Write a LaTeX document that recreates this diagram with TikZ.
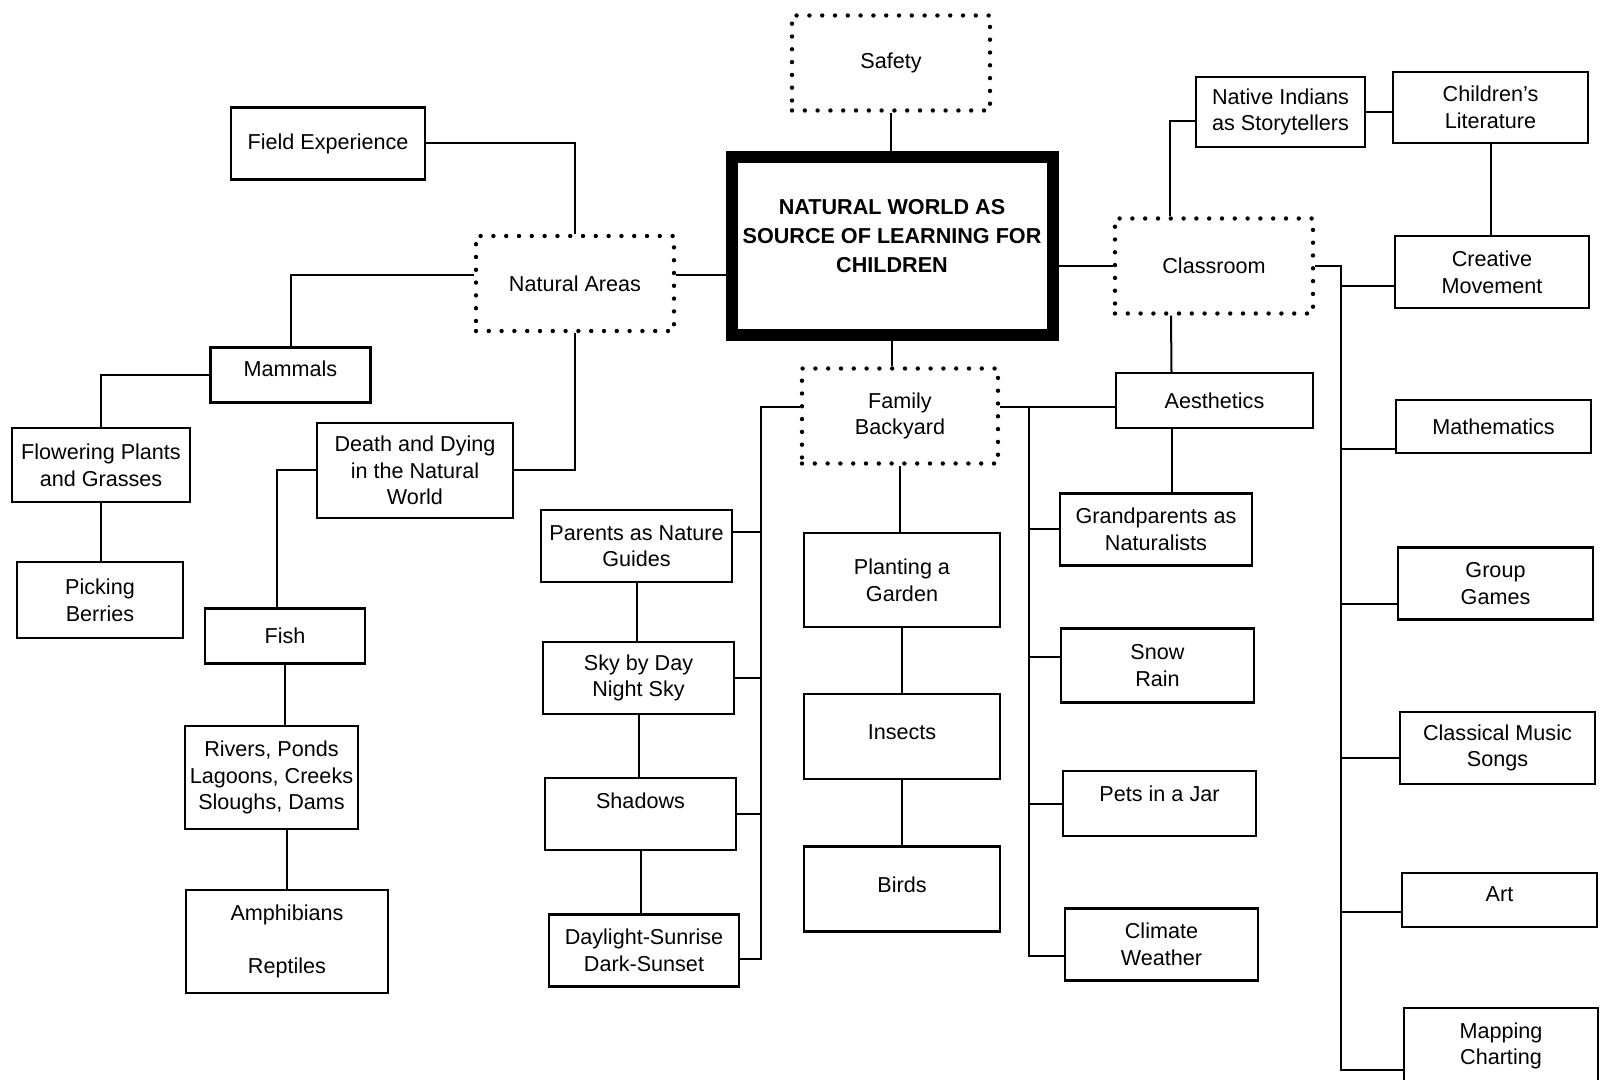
\documentclass[tikz,border=0pt]{standalone}
\usepackage{fontspec}
\setmainfont{Liberation Sans}
\usetikzlibrary{positioning}

\newcommand\hubfont{\fontsize{10.8}{14.6}\selectfont\bfseries}

\tikzset{
  box/.style={draw, line width=1.1pt, rectangle, align=center, inner sep=2pt,
    minimum width=97pt, minimum height=36pt,
    font=\fontsize{10.8}{13.3}\selectfont},
  lowbox/.style={minimum height=27.5pt},
  highbox/.style={minimum height=47.5pt},
  dotbox/.style={box, line width=2.2pt, line cap=round,
    dash pattern=on 0pt off 6.4pt},
  mainbox/.style={box, line width=6pt, minimum width=160.5pt,
    minimum height=89pt},
  textup/.style={text height=7.8pt, text depth=#1},
  link/.style={line width=1pt}
}

\begin{document}
\begin{tikzpicture}[x=0.5pt, y=-0.5pt]
  \path[use as bounding box, fill=white] (0,0) rectangle (1608,1080);

  \node[mainbox, label={[align=center, font=\hubfont, yshift=5pt]center:NATURAL WORLD AS\\SOURCE OF LEARNING FOR\\CHILDREN}]
    (nature) at (892,246) {};
  \node[dotbox, highbox, minimum width=99pt] (safety)    at (891,63)    {Safety};
  \node[dotbox, highbox, minimum width=99pt] (natural)   at (575,283.5) {Natural Areas};
  \node[dotbox, highbox, minimum width=98pt] (family)    at (900,416)   {Family\\Backyard};
  \node[dotbox, highbox, minimum width=99pt] (classroom) at (1214,266)  {Classroom};

  \node[box] (field)                                  at (328,143.5) {Field Experience};
  \node[box, lowbox, minimum width=80pt, textup=6.2pt] (mammals) at (290.5,375) {Mammals};
  \node[box, minimum width=89pt, minimum height=37pt] (flowering) at (101,465) {Flowering Plants\\and Grasses};
  \node[box, minimum width=83pt, minimum height=38pt] (berries)   at (100,600) {Picking\\Berries};
  \node[box, highbox, minimum width=98pt] (death)       at (415,470.5) {Death and Dying\\in the Natural\\World};
  \node[box, lowbox, minimum width=80pt] (fish)         at (285,636)   {Fish};
  \node[box, minimum width=86.5pt, minimum height=51.5pt] (rivers) at (271.5,777.5) {Rivers, Ponds\\Lagoons, Creeks\\Sloughs, Dams};
  \node[box, minimum width=101pt, minimum height=51.5pt] (amphib)  at (287,941.5)   {Amphibians\\[13.2pt]Reptiles};

  \node[box, minimum width=95.5pt] (parents)  at (636.5,546) {Parents as Nature\\Guides};
  \node[box, minimum width=95.5pt] (skyday)   at (638.5,678) {Sky by Day\\Night Sky};
  \node[box, minimum width=95.5pt, textup=13.2pt] (shadows) at (640.5,814) {Shadows};
  \node[box, minimum width=95pt] (daylight)   at (644,950.5) {Daylight-Sunrise\\Dark-Sunset};

  \node[box, highbox, minimum width=98pt, minimum height=47pt] (garden) at (902,580) {Planting a\\Garden};
  \node[box, minimum width=98pt, minimum height=42.5pt, textup=4.7pt] (insects) [below=32.5pt of garden]  {Insects};
  \node[box, minimum width=98pt, minimum height=42.5pt, textup=4.2pt] (birds)   [below=32.5pt of insects] {Birds};

  \node[box, minimum width=84.5pt, minimum height=35pt] (native) at (1280.5,112) {Native Indians\\as Storytellers};
  \node[box, minimum width=97.5pt, minimum height=35.5pt] (literature) at (1490.5,107.5) {Children's\\Literature};
  \node[box] (movement)                                  at (1492,272)    {Creative\\Movement};
  \node[box, lowbox, minimum width=98.5pt] (aesthetics)  at (1214.5,400.5) {Aesthetics};

  \node[box, minimum width=96pt]   (grandparents) at (1156,529.5)   {Grandparents as\\Naturalists};
  \node[box, minimum width=96.5pt, minimum height=37pt] (snow) at (1157.5,665.5) {Snow\\Rain};
  \node[box, minimum width=96.5pt, minimum height=32.5pt, textup=9.7pt] (pets) at (1159.5,803.5) {Pets in a Jar};
  \node[box, minimum width=96.5pt] (climate)      at (1161.5,944.5) {Climate\\Weather};

  \node[box, lowbox, minimum width=97.5pt, minimum height=26.5pt] (math) at (1493.5,426.5) {Mathematics};
  \node[box, minimum width=97.5pt] (games)  at (1495.5,583.5) {Group\\Games};
  \node[box, minimum width=97.5pt] (music)  at (1497.5,748)   {Classical Music\\Songs};
  \node[box, lowbox, minimum width=97.5pt, minimum height=27pt, textup=6.2pt] (art) at (1499.5,900) {Art};
  \node[box, minimum width=97pt, minimum height=38pt] (mapping) at (1501,1046) {Mapping\\Charting};

  \coordinate (fbus) at (761,0);
  \coordinate (abus) at (1029,0);
  \coordinate (cbus) at (1341,0);

  \draw[link] (safety.south) -- (safety.south |- nature.north);
  \draw[link] (natural.5) -- (natural.5 -| nature.west);
  \draw[link] (classroom.west) -- (classroom.west -| nature.east);
  \draw[link] (nature.south) -- (nature.south |- family.north);

  \draw[link] (field.east) -| (natural.north);
  \draw[link] (natural.175) -| (mammals.north);
  \draw[link] (natural.south) |- (death.east);
  \draw[link] (mammals.west) -| (flowering.north);
  \draw[link] (flowering.south) -- (flowering.south |- berries.north);
  \draw[link] (death.west) -| ([xshift=-4pt]fish.north);
  \draw[link] (fish.south) -- (fish.south |- rivers.north);
  \draw[link] (amphib.north) -- (amphib.north |- rivers.south);

  \draw[link] (family.175) -| (fbus |- daylight.-5) -- (daylight.-5);
  \draw[link] (parents.8) -- (parents.8 -| fbus);
  \draw[link] (skyday.east) -- (skyday.east -| fbus);
  \draw[link] (shadows.east) -- (shadows.east -| fbus);
  \draw[link] (parents.south) -- (parents.south |- skyday.north);
  \draw[link] (skyday.south) -- (skyday.south |- shadows.north);
  \draw[link] (shadows.south) -- (shadows.south |- daylight.north);

  \draw[link] (family.south) -- (family.south |- garden.north);
  \draw[link] (garden.south) -- (insects.north);
  \draw[link] (insects.south) -- (birds.north);

  \draw[link] (family.5) -- (family.5 -| aesthetics.west);
  \draw[link] (abus |- family.5) |- (climate.187);
  \draw[link] (grandparents.west) -- (grandparents.west -| abus);
  \draw[link] (snow.175) -- (snow.175 -| abus);
  \draw[link] (pets.west) -- (pets.west -| abus);
  \draw[link] ([xshift=-21.5pt]classroom.south) -- ([xshift=-21.5pt]aesthetics.north);
  \coordinate (adrop) at ([xshift=-21.5pt]aesthetics.south);
  \draw[link] (adrop) -- (adrop |- grandparents.north);

  \draw[link] ([xshift=-22pt]classroom.north) |- (native.186);
  \draw[link] (native.east) -- (native.east -| literature.west);
  \draw[link] (literature.south) -- (literature.south |- movement.north);
  \draw[link] (classroom.east) -| (cbus |- mapping.194) -- (mapping.194);
  \draw[link] (movement.188) -- (movement.188 -| cbus);
  \draw[link] (math.193) -- (math.193 -| cbus);
  \draw[link] (games.192) -- (games.192 -| cbus);
  \draw[link] (music.186) -- (music.186 -| cbus);
  \draw[link] (art.187) -- (art.187 -| cbus);
\end{tikzpicture}
\end{document}
